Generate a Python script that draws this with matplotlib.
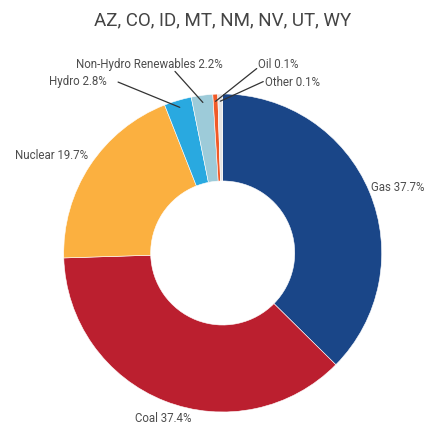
import numpy as np
import matplotlib
matplotlib.use('Agg')
import matplotlib.pyplot as plt

plt.rcParams['font.family'] = ['Roboto', 'DejaVu Sans']

TITLE = "AZ, CO, ID, MT, NM, NV, UT, WY"
SOURCES = ["Gas", "Coal", "Nuclear", "Hydro", "Non-Hydro Renewables", "Oil", "Other"]
SHARES = [37.7, 37.4, 19.7, 2.8, 2.2, 0.1, 0.1]
COLORS = ["#1a4688", "#bb1f2f", "#fbb040", "#29a9e0", "#9dcbd9", "#f05a28", "#e4e4e4"]
MIN_SLICE = 0.5  # tiny slices get a minimum visible size, as in the original

# label placement (data units, pie radius = 1)
LABEL_POS = {
	"Gas": (0.933, 0.409, "left"),
	"Coal": (-0.552, -1.038, "left"),
	"Nuclear": (-0.847, 0.616, "right"),
	"Hydro": (-0.728, 1.078, "right"),
	"Non-Hydro Renewables": (-0.925, 1.185, "left"),
	"Oil": (0.222, 1.185, "left"),
	"Other": (0.268, 1.075, "left"),
}
# where the leader lines start (only for the small slices)
LEADER_START = {
	"Hydro": (-0.658, 1.075),
	"Non-Hydro Renewables": (-0.300, 1.142),
	"Oil": (0.214, 1.160),
	"Other": (0.255, 1.078),
}

fig = plt.figure(figsize=(4.31, 4.28), dpi=100)
ax = fig.add_axes([0.1478, 0.0374, 0.7378, 0.743])

sizes = np.maximum(SHARES, MIN_SLICE)
wedges, _ = ax.pie(sizes, colors=COLORS, startangle=90, counterclock=False, radius=1,
	wedgeprops=dict(width=0.547, edgecolor="white", linewidth=0.4))
ax.set_xlim(-1, 1)
ax.set_ylim(-1, 1)
ax.set_aspect("equal")
ax.axis("off")

for name, share, wedge in zip(SOURCES, SHARES, wedges):
	x, y, ha = LABEL_POS[name]
	ax.text(x, y, "%s %.1f%%" % (name, share), ha=ha, va="center",
		fontsize=8.3, color="#4d4d4d", clip_on=False)
	if name in LEADER_START:
		mid = np.deg2rad((wedge.theta1 + wedge.theta2) / 2.)
		end = (0.955 * np.cos(mid), 0.955 * np.sin(mid))
		ax.annotate("", xy=end, xytext=LEADER_START[name],
			arrowprops=dict(arrowstyle="-", color="#333333", lw=0.9, shrinkA=0, shrinkB=0),
			annotation_clip=False)

fig.text(0.516, 0.953, TITLE, ha="center", va="center", fontsize=13.5, color="#444444")

plt.savefig("out.png", dpi=100)
